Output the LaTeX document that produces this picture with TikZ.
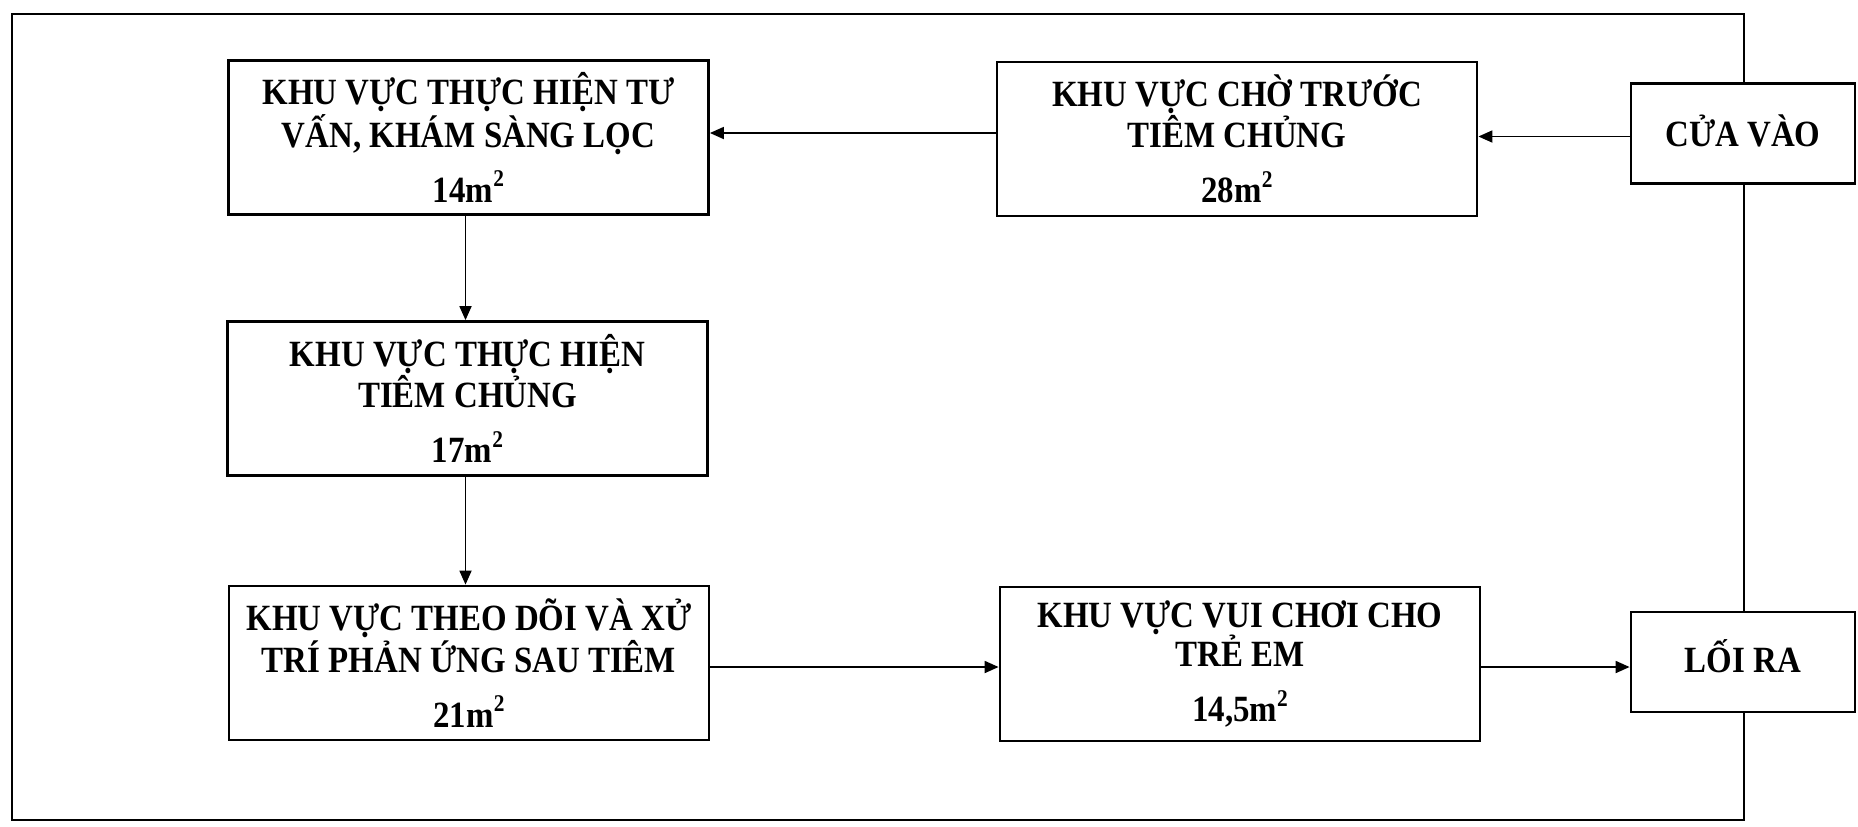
\documentclass[tikz,border=0pt]{standalone}
\usepackage{fontspec}
\setmainfont{Liberation Serif}
\newfontfamily\condserif[FakeStretch=0.89]{Liberation Serif}
\newcommand{\sqm}{m\raisebox{0.42em}{\fontsize{12}{12}\selectfont 2}}
\usetikzlibrary{arrows.meta}
\begin{document}
\begin{tikzpicture}[x=0.5pt,y=-0.5pt,
  area/.style={draw, line width=1.4pt, fill=white, minimum width=240pt, minimum height=77pt,
    align=center, inner sep=0pt, font=\condserif\bfseries\fontsize{18.5}{19.5}\selectfont},
  door/.style={draw, line width=1.4pt, fill=white, minimum width=112pt, minimum height=50pt,
    align=center, inner sep=0pt, font=\condserif\bfseries\fontsize{18.5}{19.5}\selectfont},
  flow/.style={line width=0.9pt, -{Triangle[length=7pt,width=6pt]}},
  frame/.style={line width=1.4pt}]
\useasboundingbox (0,0) rectangle (1858,826);
\draw[frame] (12,14) rectangle (1744,820);
\node[area] (A) at (468.5,137.5) {KHU VỰC THỰC HIỆN TƯ\\VẤN, KHÁM SÀNG LỌC\\[8pt]14\sqm};
\node[area] (B) at (1237,139) {KHU VỰC CHỜ TRƯỚC\\TIÊM CHỦNG\\[8pt]28\sqm};
\node[door] (C) at (1743,133.5) {\raisebox{3pt}{CỬA VÀO}};
\node[area] (D) at (467.5,398.5) {KHU VỰC THỰC HIỆN\\TIÊM CHỦNG\\[8pt]17\sqm};
\node[area] (E) at (469,663) {KHU VỰC THEO DÕI VÀ XỬ\\TRÍ PHẢN ỨNG SAU TIÊM\\[8pt]21\sqm};
\node[area] (F) at (1240,664) {KHU VỰC VUI CHƠI CHO\\TRẺ EM\\[8pt]14,5\sqm};
\node[door] (G) at (1743,662) {\raisebox{6pt}{LỐI RA}};
\coordinate (c1) at ([yshift=-1.5pt]C.west);
\draw[flow] (c1) -- (c1 -| B.east);
\coordinate (b1) at ([yshift=3pt]B.west);
\draw[flow] (b1) -- (b1 -| A.east);
\coordinate (a1) at ([xshift=-1.5pt]A.south);
\draw[flow] (a1) -- (a1 |- D.north);
\coordinate (d1) at ([xshift=-1pt]D.south);
\draw[flow] (d1) -- (d1 |- E.north);
\coordinate (e1) at ([yshift=-2pt]E.east);
\draw[flow] (e1) -- (e1 -| F.west);
\coordinate (f1) at ([yshift=-1.5pt]F.east);
\draw[flow] (f1) -- (f1 -| G.west);
\end{tikzpicture}
\end{document}
